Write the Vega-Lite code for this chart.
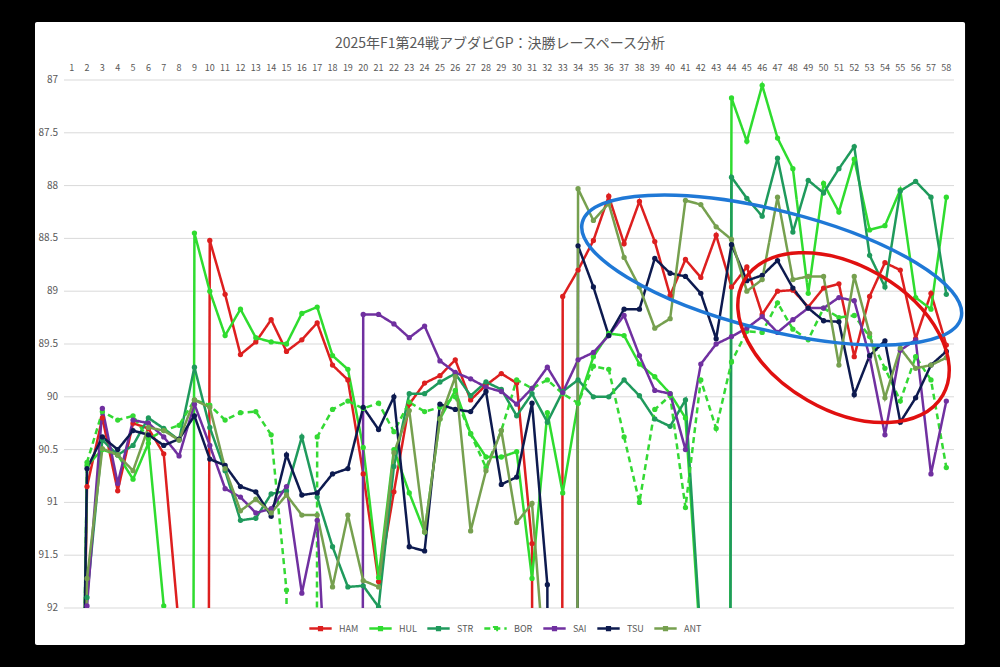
{
  "$schema": "https://vega.github.io/schema/vega-lite/v6.json",
  "width": 890,
  "height": 528,
  "autosize": {"type": "none"},
  "padding": {"left": 64, "top": 80, "right": 46, "bottom": 59},
  "background": "black",
  "config": {
    "view": {"stroke": null},
    "font": "Noto Sans CJK JP"
  },
  "title": {"text": "2025年F1第24戦アブダビGP：決勝レースペース分析", "fontSize": 14, "fontWeight": "normal", "color": "#595959", "offset": -29, "dx": -9},
  "datasets": {
    "laps": [
      {"lap":1,"HAM":100,"HUL":100,"STR":100,"BOR":100,"SAI":100,"TSU":100,"ANT":100},
      {"lap":2,"HAM":90.85,"HUL":90.65,"STR":91.9,"BOR":90.62,"SAI":91.98,"TSU":90.68,"ANT":91.72},
      {"lap":3,"HAM":90.2,"HUL":90.5,"STR":90.41,"BOR":90.14,"SAI":90.11,"TSU":90.38,"ANT":90.49},
      {"lap":4,"HAM":90.89,"HUL":90.55,"STR":90.55,"BOR":90.22,"SAI":90.82,"TSU":90.5,"ANT":90.55},
      {"lap":5,"HAM":90.25,"HUL":90.78,"STR":90.46,"BOR":90.18,"SAI":90.22,"TSU":90.32,"ANT":90.7},
      {"lap":6,"HAM":90.3,"HUL":90.44,"STR":90.2,"BOR":90.4,"SAI":90.25,"TSU":90.36,"ANT":90.29},
      {"lap":7,"HAM":90.54,"HUL":91.98,"STR":90.3,"BOR":90.32,"SAI":90.38,"TSU":90.46,"ANT":90.32},
      {"lap":8,"HAM":92.2,"HUL":150,"STR":90.41,"BOR":90.27,"SAI":90.56,"TSU":90.4,"ANT":90.41},
      {"lap":9,"HAM":150,"HUL":88.45,"STR":89.72,"BOR":90.03,"SAI":90.07,"TSU":90.18,"ANT":90.03},
      {"lap":10,"HAM":88.52,"HUL":89.0,"STR":90.29,"BOR":90.08,"SAI":90.46,"TSU":90.59,"ANT":90.1},
      {"lap":11,"HAM":89.03,"HUL":89.42,"STR":90.7,"BOR":90.22,"SAI":90.87,"TSU":90.65,"ANT":90.68},
      {"lap":12,"HAM":89.6,"HUL":89.17,"STR":91.17,"BOR":90.15,"SAI":90.95,"TSU":90.85,"ANT":91.08},
      {"lap":13,"HAM":89.48,"HUL":89.44,"STR":91.15,"BOR":90.14,"SAI":91.1,"TSU":90.9,"ANT":90.97},
      {"lap":14,"HAM":89.27,"HUL":89.48,"STR":90.92,"BOR":90.36,"SAI":91.06,"TSU":91.13,"ANT":91.1},
      {"lap":15,"HAM":89.57,"HUL":89.5,"STR":90.89,"BOR":91.83,"SAI":90.85,"TSU":90.55,"ANT":90.93},
      {"lap":16,"HAM":89.46,"HUL":89.21,"STR":90.38,"BOR":200,"SAI":91.86,"TSU":90.93,"ANT":91.12},
      {"lap":17,"HAM":89.3,"HUL":89.15,"STR":90.95,"BOR":90.38,"SAI":91.17,"TSU":90.91,"ANT":91.12},
      {"lap":18,"HAM":89.7,"HUL":89.61,"STR":91.42,"BOR":90.12,"SAI":94,"TSU":90.73,"ANT":91.8},
      {"lap":19,"HAM":89.84,"HUL":89.74,"STR":91.8,"BOR":90.04,"SAI":200,"TSU":90.68,"ANT":91.12},
      {"lap":20,"HAM":90.73,"HUL":90.48,"STR":91.79,"BOR":90.11,"SAI":89.22,"TSU":90.1,"ANT":91.74},
      {"lap":21,"HAM":91.75,"HUL":91.71,"STR":91.99,"BOR":90.06,"SAI":89.22,"TSU":90.31,"ANT":91.8},
      {"lap":22,"HAM":90.9,"HUL":90.5,"STR":90.66,"BOR":90.33,"SAI":89.31,"TSU":90.0,"ANT":90.53},
      {"lap":23,"HAM":90.07,"HUL":90.91,"STR":89.97,"BOR":90.05,"SAI":89.44,"TSU":91.42,"ANT":90.13},
      {"lap":24,"HAM":89.87,"HUL":91.28,"STR":89.97,"BOR":90.14,"SAI":89.33,"TSU":91.46,"ANT":91.28},
      {"lap":25,"HAM":89.8,"HUL":90.21,"STR":89.86,"BOR":90.1,"SAI":89.66,"TSU":90.07,"ANT":90.21},
      {"lap":26,"HAM":89.65,"HUL":89.94,"STR":89.78,"BOR":90.0,"SAI":89.77,"TSU":90.12,"ANT":89.81},
      {"lap":27,"HAM":90.03,"HUL":90.35,"STR":89.99,"BOR":90.35,"SAI":89.83,"TSU":90.14,"ANT":91.27},
      {"lap":28,"HAM":89.89,"HUL":90.57,"STR":89.86,"BOR":90.67,"SAI":89.91,"TSU":89.95,"ANT":90.7},
      {"lap":29,"HAM":89.78,"HUL":90.57,"STR":89.93,"BOR":90.32,"SAI":89.95,"TSU":90.83,"ANT":90.32},
      {"lap":30,"HAM":89.87,"HUL":90.52,"STR":90.18,"BOR":89.84,"SAI":90.07,"TSU":90.76,"ANT":91.19},
      {"lap":31,"HAM":91.39,"HUL":91.72,"STR":89.97,"BOR":89.92,"SAI":89.92,"TSU":90.06,"ANT":91.01},
      {"lap":32,"HAM":200,"HUL":90.15,"STR":90.24,"BOR":89.84,"SAI":89.72,"TSU":91.78,"ANT":92.9},
      {"lap":33,"HAM":89.05,"HUL":90.91,"STR":89.95,"BOR":89.97,"SAI":89.96,"TSU":200,"ANT":200},
      {"lap":34,"HAM":88.8,"HUL":90.06,"STR":89.84,"BOR":90.06,"SAI":89.65,"TSU":88.57,"ANT":88.03},
      {"lap":35,"HAM":88.52,"HUL":89.62,"STR":90.0,"BOR":89.71,"SAI":89.58,"TSU":88.96,"ANT":88.33},
      {"lap":36,"HAM":88.1,"HUL":89.4,"STR":90.0,"BOR":89.74,"SAI":89.42,"TSU":89.42,"ANT":88.17},
      {"lap":37,"HAM":88.55,"HUL":89.42,"STR":89.84,"BOR":90.38,"SAI":89.23,"TSU":89.17,"ANT":88.68},
      {"lap":38,"HAM":88.15,"HUL":89.69,"STR":89.99,"BOR":91.0,"SAI":89.61,"TSU":89.17,"ANT":88.96},
      {"lap":39,"HAM":88.53,"HUL":89.81,"STR":90.21,"BOR":90.12,"SAI":89.94,"TSU":88.69,"ANT":89.35},
      {"lap":40,"HAM":89.04,"HUL":89.97,"STR":90.28,"BOR":89.99,"SAI":89.97,"TSU":88.83,"ANT":89.26},
      {"lap":41,"HAM":88.7,"HUL":90.2,"STR":90.03,"BOR":91.05,"SAI":90.5,"TSU":88.86,"ANT":88.14},
      {"lap":42,"HAM":88.87,"HUL":92.4,"STR":92.3,"BOR":89.84,"SAI":89.69,"TSU":89.02,"ANT":88.18},
      {"lap":43,"HAM":88.47,"HUL":150,"STR":150,"BOR":90.3,"SAI":89.5,"TSU":89.45,"ANT":88.39},
      {"lap":44,"HAM":88.96,"HUL":87.17,"STR":87.92,"BOR":89.67,"SAI":89.43,"TSU":88.56,"ANT":88.51},
      {"lap":45,"HAM":88.77,"HUL":87.58,"STR":88.12,"BOR":89.38,"SAI":89.35,"TSU":88.9,"ANT":89.0},
      {"lap":46,"HAM":89.22,"HUL":87.05,"STR":88.29,"BOR":89.39,"SAI":89.24,"TSU":88.85,"ANT":88.89},
      {"lap":47,"HAM":89.0,"HUL":87.55,"STR":87.74,"BOR":89.11,"SAI":89.39,"TSU":88.71,"ANT":88.11},
      {"lap":48,"HAM":88.99,"HUL":87.84,"STR":88.44,"BOR":89.36,"SAI":89.27,"TSU":88.97,"ANT":88.89},
      {"lap":49,"HAM":89.15,"HUL":89.02,"STR":87.95,"BOR":89.46,"SAI":89.16,"TSU":89.16,"ANT":88.86},
      {"lap":50,"HAM":88.97,"HUL":87.98,"STR":88.07,"BOR":89.16,"SAI":89.16,"TSU":89.28,"ANT":88.86},
      {"lap":51,"HAM":88.93,"HUL":88.25,"STR":87.84,"BOR":89.25,"SAI":89.06,"TSU":89.29,"ANT":89.7},
      {"lap":52,"HAM":89.62,"HUL":87.75,"STR":87.63,"BOR":89.23,"SAI":89.09,"TSU":89.98,"ANT":88.86},
      {"lap":53,"HAM":89.05,"HUL":88.42,"STR":88.66,"BOR":89.43,"SAI":89.62,"TSU":89.61,"ANT":89.4},
      {"lap":54,"HAM":88.73,"HUL":88.38,"STR":88.96,"BOR":89.73,"SAI":90.36,"TSU":89.47,"ANT":90.01},
      {"lap":55,"HAM":88.8,"HUL":88.04,"STR":88.05,"BOR":90.04,"SAI":89.56,"TSU":90.24,"ANT":89.54},
      {"lap":56,"HAM":89.45,"HUL":89.06,"STR":87.96,"BOR":89.62,"SAI":89.46,"TSU":90.01,"ANT":89.73},
      {"lap":57,"HAM":89.02,"HUL":89.17,"STR":88.11,"BOR":89.84,"SAI":90.73,"TSU":89.7,"ANT":89.7},
      {"lap":58,"HAM":89.51,"HUL":88.11,"STR":89.03,"BOR":90.67,"SAI":90.04,"TSU":89.57,"ANT":89.63}
    ],
    "grid": [{"v": 87}, {"v": 87.5}, {"v": 88}, {"v": 88.5}, {"v": 89}, {"v": 89.5}, {"v": 90}, {"v": 90.5}, {"v": 91}, {"v": 91.5}, {"v": 92}],
    "notes": [
      {"note": "blue", "lap": 46.62, "time": 88.8},
      {"note": "red", "lap": 51.3, "time": 89.44}
    ]
  },
  "layer": [
    {
      "data": {"values": [{}]},
      "mark": {"type": "rect", "color": "white", "cornerRadius": 2},
      "encoding": {
        "x": {"datum": -1.39, "type": "quantitative", "scale": {"domain": [0.5, 58.5]}, "axis": null},
        "x2": {"datum": 59.22},
        "y": {"datum": 86.45, "type": "quantitative", "scale": {"domain": [87, 92], "reverse": true}, "axis": null},
        "y2": {"datum": 92.35}
      }
    },
    {
      "data": {"name": "grid"},
      "mark": {"type": "rule", "color": "#d9d9d9", "strokeWidth": 1},
      "encoding": {
        "y": {"field": "v", "type": "quantitative", "scale": {"domain": [87, 92], "reverse": true}, "axis": null}
      }
    },
    {
      "data": {"name": "grid"},
      "mark": {"type": "text", "align": "right", "baseline": "middle", "fontSize": 10, "color": "#595959"},
      "encoding": {
        "x": {"datum": 0.109, "type": "quantitative", "scale": {"domain": [0.5, 58.5]}, "axis": null},
        "y": {"field": "v", "type": "quantitative", "scale": {"domain": [87, 92], "reverse": true}, "axis": null},
        "text": {"field": "v", "type": "nominal"}
      }
    },
    {
      "data": {"name": "laps"},
      "mark": {"type": "text", "align": "center", "baseline": "middle", "fontSize": 9, "color": "#595959"},
      "encoding": {
        "x": {"field": "lap", "type": "quantitative", "scale": {"domain": [0.5, 58.5]}, "axis": null},
        "y": {"datum": 86.885, "type": "quantitative", "scale": {"domain": [87, 92], "reverse": true}, "axis": null},
        "text": {"field": "lap", "type": "nominal"}
      }
    },
    {
      "data": {"name": "laps"},
      "transform": [{"fold": ["HAM", "HUL", "STR", "BOR", "SAI", "TSU", "ANT"], "as": ["driver", "time"]}],
      "encoding": {
        "x": {"field": "lap", "type": "quantitative", "scale": {"domain": [0.5, 58.5]}, "axis": null},
        "y": {"field": "time", "type": "quantitative", "scale": {"domain": [87, 92], "reverse": true}, "axis": null}
      },
      "layer": [
        {
          "mark": {"type": "line", "clip": true, "strokeWidth": 2.5},
          "encoding": {
            "color": {"field": "driver", "type": "nominal",
              "scale": {"domain": ["HAM", "HUL", "STR", "BOR", "SAI", "TSU", "ANT"], "range": ["#dd1f1f", "#2fdc2f", "#1f9a5c", "#34d934", "#7030a0", "#0d1a4f", "#76a04f"]},
              "legend": {"title": null, "orient": "none", "legendX": 244, "legendY": 536, "direction": "horizontal", "columns": 7, "labelFontSize": 9, "labelColor": "#595959", "symbolStrokeWidth": 2.5, "symbolSize": 500, "columnPadding": 5, "labelOffset": 6,
                "symbolType": "M -1 0 L 1 0 M -0.12 -0.12 L 0.12 -0.12 L 0.12 0.12 L -0.12 0.12 Z"}},
            "strokeDash": {"field": "driver", "type": "nominal",
              "scale": {"domain": ["HAM", "HUL", "STR", "BOR", "SAI", "TSU", "ANT"], "range": [[1, 0], [1, 0], [1, 0], [6, 4], [1, 0], [1, 0], [1, 0]]},
              "legend": {"title": null, "orient": "none", "legendX": 244, "legendY": 536, "direction": "horizontal", "columns": 7, "labelFontSize": 9, "labelColor": "#595959", "symbolStrokeWidth": 2.5, "symbolSize": 500, "columnPadding": 5, "labelOffset": 6,
                "symbolType": "M -1 0 L 1 0 M -0.12 -0.12 L 0.12 -0.12 L 0.12 0.12 L -0.12 0.12 Z"}}
          }
        },
        {
          "mark": {"type": "point", "clip": true, "filled": true, "size": 28, "opacity": 1},
          "encoding": {
            "color": {"field": "driver", "type": "nominal", "legend": null}
          }
        }
      ]
    },
    {
      "data": {"name": "notes"},
      "encoding": {
        "x": {"field": "lap", "type": "quantitative", "scale": {"domain": [0.5, 58.5]}, "axis": null},
        "y": {"field": "time", "type": "quantitative", "scale": {"domain": [87, 92], "reverse": true}, "axis": null}
      },
      "layer": [
        {
          "transform": [{"filter": "datum.note == 'blue'"}],
          "mark": {"type": "point", "filled": false, "opacity": 1, "strokeWidth": 3.5, "color": "#1f78d6", "size": 152568,
            "shape": "M 0.9699 0.2436 C 0.9287 0.4076 0.4611 0.4315 -0.0746 0.297 C -0.6103 0.1625 -1.0111 -0.0796 -0.9699 -0.2436 C -0.9287 -0.4076 -0.4611 -0.4315 0.0746 -0.297 C 0.6103 -0.1625 1.0111 0.0796 0.9699 0.2436 Z"}
        },
        {
          "transform": [{"filter": "datum.note == 'red'"}],
          "mark": {"type": "point", "filled": false, "opacity": 1, "strokeWidth": 3.5, "color": "#e01010", "size": 52624,
            "shape": "M 0.866 0.5 C 0.692 0.8013 0.1633 0.8218 -0.315 0.5456 C -0.7933 0.2694 -1.04 -0.1987 -0.866 -0.5 C -0.692 -0.8013 -0.1633 -0.8218 0.315 -0.5456 C 0.7933 -0.2694 1.04 0.1987 0.866 0.5 Z"}
        }
      ]
    }
  ]
}
